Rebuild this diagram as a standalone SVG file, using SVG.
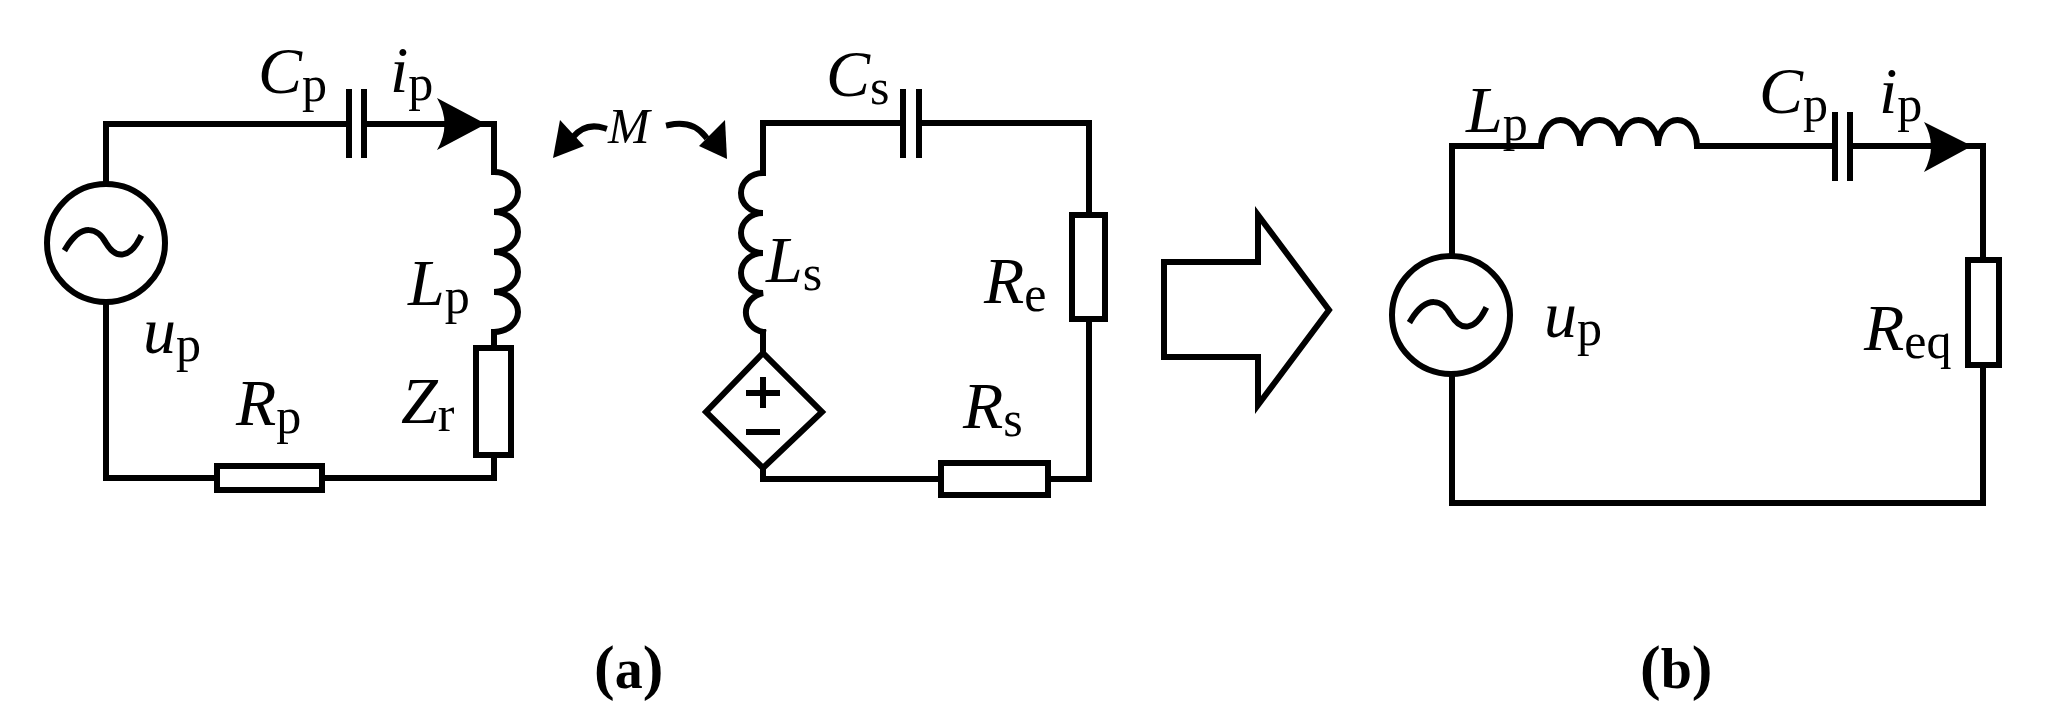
<svg xmlns="http://www.w3.org/2000/svg" width="2064" height="724" viewBox="0 0 2064 724">
<defs>
<style>
.w{fill:none;stroke:#000;stroke-width:6;stroke-linecap:square;stroke-linejoin:miter}
.c{fill:#fff;stroke:#000;stroke-width:6}
.t{font-family:"Liberation Serif","Times New Roman",serif;font-size:66px;font-style:italic}
.t tspan.s{font-style:normal;font-size:50px}
.m{font-family:"Liberation Serif","Times New Roman",serif;font-size:50px;font-style:italic}
.lb{font-family:"Liberation Serif","Times New Roman",serif;font-size:62px;font-weight:bold}
</style>
</defs>
<rect width="2064" height="724" fill="#fff"/>
<g id="connectors">
<path class="w" d="M349,124 H106 V183 M106,303 V478 H217 M322,478 H494 V455 M494,348 V333 M494,172 V124 H364"/>
<path class="w" d="M903,123 H763 V173 M763,332 V353 M763,468 V479 H941 M1048,479 H1089 V319 M1089,215 V123 H919"/>
<path class="w" d="M1835,146 H1697 M1541,146 H1452 V255 M1452,375 V503 H1983 V365 M1983,260 V146 H1850"/>
</g>
<g id="vs_a"><circle class="c" cx="106" cy="243" r="59"/><path class="w" d="M66,248 C82,222 98,228 106,243 C116,260 130,258 140,238"/></g>
<g id="cp_a"><path class="w" d="M349,92 V155 M364,92 V155"/></g>
<g id="ip_a"><path d="M486,124 L437,98 Q452,124 437,150 Z" fill="#000"/></g>
<g id="lp_a"><path class="w" d="M494,172 a24,20 0 0 1 0,40 a24,20 0 0 1 0,40 a24,20 0 0 1 0,40 a24,20 0 0 1 0,40"/></g>
<g id="zr"><rect class="c" x="476" y="348" width="35" height="107"/></g>
<g id="rp"><rect class="c" x="217" y="466" width="105" height="24"/></g>
<g id="mutual">
<path class="w" d="M604,128 Q585,122 572,138" stroke-width="7"/><path d="M553,158 L560,120 L584,146 Z" fill="#000"/>
<path class="w" d="M669,125 Q692,120 705,136" stroke-width="7"/><path d="M727,159 L725,120 L699,146 Z" fill="#000"/>
<text class="m" x="608" y="143">M</text>
</g>
<g id="ls"><path class="w" d="M763,173 a22,20 0 0 0 0,40 a22,20 0 0 0 0,40 a22,20 0 0 0 0,40 a22,20 0 0 0 0,39"/></g>
<g id="cs"><path class="w" d="M903,92 V155 M919,92 V155"/></g>
<g id="dep"><path class="c" d="M763,353 L822,412 L763,468 L706,412 Z"/><path class="w" d="M763,380 V405 M749,393 H777 M749,432 H777"/></g>
<g id="re"><rect class="c" x="1072" y="215" width="33" height="104"/></g>
<g id="rs"><rect class="c" x="941" y="463" width="107" height="32"/></g>
<g id="bigarrow"><path class="w" d="M1164,262 H1258 V215 L1329,310 L1258,405 V357 H1164 Z"/></g>
<g id="vs_b"><circle class="c" cx="1451" cy="315" r="59"/><path class="w" d="M1411,320 C1427,294 1443,300 1451,315 C1461,332 1475,330 1485,310"/></g>
<g id="lp_b"><path class="w" d="M1541,146 a19.5,26 0 0 1 39,0 a19.5,26 0 0 1 39,0 a19.5,26 0 0 1 39,0 a19.5,26 0 0 1 39,0"/></g>
<g id="cp_b"><path class="w" d="M1835,115 V178 M1850,115 V178"/></g>
<g id="ip_b"><path d="M1972,146 L1924,122 Q1938,146 1924,172 Z" fill="#000"/></g>
<g id="req"><rect class="c" x="1968" y="260" width="31" height="105"/></g>
<g id="labels">
<text class="t" x="258" y="93">C<tspan class="s" dy="8">p</tspan></text>
<text class="t" x="390" y="92">i<tspan class="s" dy="8">p</tspan></text>
<text class="t" x="408" y="305">L<tspan class="s" dy="8">p</tspan></text>
<text class="t" x="143" y="353">u<tspan class="s" dy="8">p</tspan></text>
<text class="t" x="236" y="425">R<tspan class="s" dy="8">p</tspan></text>
<text class="t" x="401" y="423">Z<tspan class="s" dy="8">r</tspan></text>
<text class="t" x="826" y="96">C<tspan class="s" dy="8">s</tspan></text>
<text class="t" x="766" y="282">L<tspan class="s" dy="8">s</tspan></text>
<text class="t" x="984" y="303">R<tspan class="s" dy="8">e</tspan></text>
<text class="t" x="963" y="428">R<tspan class="s" dy="8">s</tspan></text>
<text class="t" x="1466" y="132">L<tspan class="s" dy="8">p</tspan></text>
<text class="t" x="1759" y="113">C<tspan class="s" dy="8">p</tspan></text>
<text class="t" x="1879" y="113">i<tspan class="s" dy="8">p</tspan></text>
<text class="t" x="1544" y="337">u<tspan class="s" dy="8">p</tspan></text>
<text class="t" x="1864" y="350">R<tspan class="s" dy="8">eq</tspan></text>
<text class="lb" x="594" y="688">(<tspan font-size="56">a</tspan>)</text>
<text class="lb" x="1640" y="688">(<tspan font-size="56">b</tspan>)</text>
</g>
</svg>
